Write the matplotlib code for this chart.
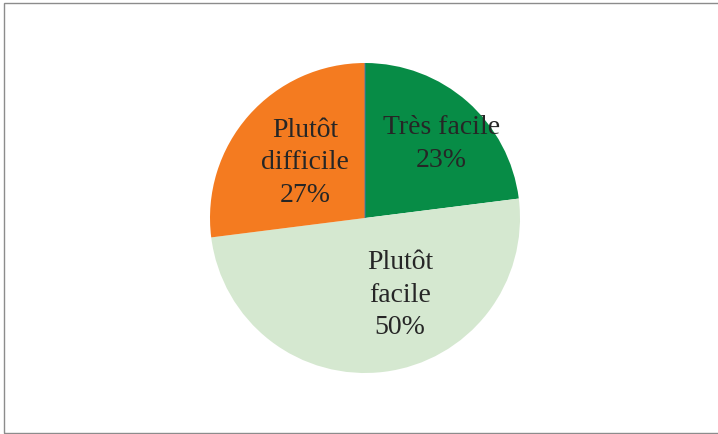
import numpy as np
import matplotlib
matplotlib.use("Agg")
import matplotlib.pyplot as plt
from matplotlib.patches import Rectangle

# ── data ──────────────────────────────────────────────────────────────────────
labels = ["Très facile", "Plutôt facile", "Plutôt difficile", "Très difficile"]
label_lines = ["Très facile", "Plutôt\nfacile", "Plutôt\ndifficile", ""]
shares = [23, 50, 27, 0]
colors = ["#078C46", "#D5E8D0", "#F47B20", "#4472C4"]

# label placement: fraction of radius and angular nudge from the slice middle
label_r = [0.69, 0.54, 0.53, 0.0]
label_nudge = [-4.0, 17.5, -1.6, 0.0]

W, H = 718, 435
fig = plt.figure(figsize=(W / 100, H / 100), dpi=100)

# pie centre (365, 219) px, radius 155 px
cx, cy, r = 365, 219, 155
ax = fig.add_axes([(cx - r) / W, (H - cy - r) / H, 2 * r / W, 2 * r / H])

wedges, _ = ax.pie(
    shares, colors=colors, startangle=90, counterclock=False,
    radius=1.0, wedgeprops=dict(linewidth=0),
)
# the empty slice only shows as a hairline
wedges[-1].set_edgecolor(colors[-1])
wedges[-1].set_linewidth(0.6)

for w, txt, pct, rr, nd in zip(wedges, label_lines, shares, label_r, label_nudge):
    if pct == 0:
        continue
    mid = np.deg2rad((w.theta1 + w.theta2) / 2 + nd)
    ax.text(rr * np.cos(mid), rr * np.sin(mid), f"{txt}\n{pct}%",
            ha="center", va="center", fontsize=20, color="#262626",
            family="Liberation Serif", linespacing=1.4)

ax.set_xlim(-1.0, 1.0)
ax.set_ylim(-1.0, 1.0)
ax.set_aspect("auto")
ax.axis("off")

# chart area frame (runs off the right edge in the original)
fig.patches.append(Rectangle((4 / W, 1 / H), (W + 4) / W, (H - 5) / H,
                             transform=fig.transFigure, fill=False,
                             edgecolor="#8C8C8C", linewidth=1.0))

fig.savefig("out.png", dpi=100)
